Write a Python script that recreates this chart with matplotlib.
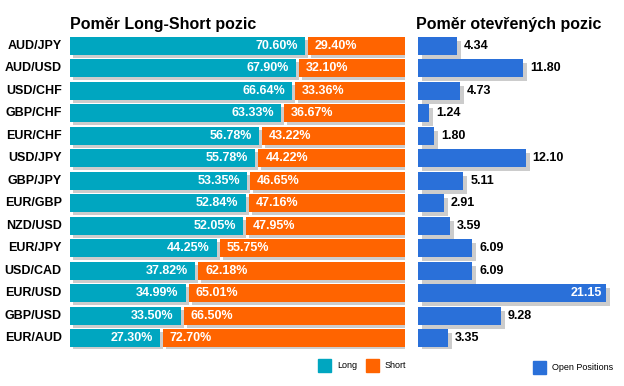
import numpy as np
import matplotlib.pyplot as plt
from matplotlib.transforms import ScaledTranslation
from matplotlib.patches import Rectangle

plt.rcParams['font.family'] = ['Liberation Sans', 'DejaVu Sans']

# --- data ---
pairs = ['AUD/JPY', 'AUD/USD', 'USD/CHF', 'GBP/CHF', 'EUR/CHF', 'USD/JPY', 'GBP/JPY',
         'EUR/GBP', 'NZD/USD', 'EUR/JPY', 'USD/CAD', 'EUR/USD', 'GBP/USD', 'EUR/AUD']
long_pct = [70.60, 67.90, 66.64, 63.33, 56.78, 55.78, 53.35,
            52.84, 52.05, 44.25, 37.82, 34.99, 33.50, 27.30]
short_pct = [29.40, 32.10, 33.36, 36.67, 43.22, 44.22, 46.65,
             47.16, 47.95, 55.75, 62.18, 65.01, 66.50, 72.70]
open_pos = [4.34, 11.80, 4.73, 1.24, 1.80, 12.10, 5.11,
            2.91, 3.59, 6.09, 6.09, 21.15, 9.28, 3.35]

TEAL = '#00a6c0'
ORANGE = '#ff6400'
BLUE = '#2a70d9'
GRAY = '#cccccc'

W, H = 624, 386
fig = plt.figure(figsize=(W / 100, H / 100), dpi=100)

def px_axes(x0, y_top, w, h):
    return fig.add_axes([x0 / W, (H - y_top - h) / H, w / W, h / H])

row_h = 22.46
n = len(pairs)
y = np.arange(n)
top = 46 - row_h / 2
bar_h = 0.8

def shadow(ax, dx, dy):
    return ax.transData + ScaledTranslation(dx / 100, -dy / 100, fig.dpi_scale_trans)

# --- left: long/short ratio ---
axl = px_axes(70, top, 335, n * row_h)
axl.set_xlim(0, 100)
axl.set_ylim(n - 0.5, -0.5)
axl.axis('off')
gap = 0.9
long_w = np.array(long_pct) - gap / 2
short_l = np.array(long_pct) + gap / 2
short_w = np.array(short_pct) - gap / 2
axl.barh(y, long_w, height=bar_h, color=GRAY, transform=shadow(axl, 3, 3), zorder=1)
axl.barh(y, short_w, left=short_l, height=bar_h, color=GRAY, transform=shadow(axl, 3, 3), zorder=1)
axl.barh(y, long_w, height=bar_h, color=TEAL, zorder=2)
axl.barh(y, short_w, left=short_l, height=bar_h, color=ORANGE, zorder=2)
for i in range(n):
    axl.annotate(f'{long_pct[i]:.2f}%', (long_w[i], i), xytext=(-5, 0), textcoords='offset points',
                 ha='right', va='center', color='white', fontsize=9, fontweight='bold', zorder=3)
    axl.annotate(f'{short_pct[i]:.2f}%', (short_l[i], i), xytext=(5, 0), textcoords='offset points',
                 ha='left', va='center', color='white', fontsize=9, fontweight='bold', zorder=3)
    axl.annotate(pairs[i], (0, i), xytext=(-6, 0), textcoords='offset points',
                 ha='right', va='center', color='black', fontsize=9, fontweight='bold')

# --- right: open positions ---
scale = 8.9
axr = px_axes(418, top, 202, n * row_h)
axr.set_xlim(0, 202 / scale)
axr.set_ylim(n - 0.5, -0.5)
axr.axis('off')
axr.barh(y, open_pos, height=bar_h, color=GRAY, transform=shadow(axr, 4, 4), zorder=1)
axr.barh(y, open_pos, height=bar_h, color=BLUE, zorder=2)
vmax = max(open_pos)
for i, v in enumerate(open_pos):
    if v == vmax:
        axr.annotate(f'{v:.2f}', (v, i), xytext=(-3, 0), textcoords='offset points',
                     ha='right', va='center', color='white', fontsize=9, fontweight='bold', zorder=3)
    else:
        axr.annotate(f'{v:.2f}', (v, i), xytext=(5, 0), textcoords='offset points',
                     ha='left', va='center', color='black', fontsize=9, fontweight='bold', zorder=3)

# --- titles ---
fig.text(70 / W, 1 - 24 / H, 'Poměr Long-Short pozic', fontsize=11.5, fontweight='bold', va='center')
fig.text(416 / W, 1 - 24 / H, 'Poměr otevřených pozic', fontsize=11.5, fontweight='bold', va='center')

# --- legends ---
def legend_item(x, yc, color, label):
    fig.patches.append(Rectangle((x / W, (H - yc - 6.5) / H), 13 / W, 13 / H,
                                 transform=fig.transFigure, color=color))
    fig.text((x + 19) / W, 1 - yc / H, label, fontsize=6.5, va='center')

legend_item(318, 365, TEAL, 'Long')
legend_item(366, 365, ORANGE, 'Short')
legend_item(533, 367, BLUE, 'Open Positions')

fig.savefig('out.png', dpi=100)
